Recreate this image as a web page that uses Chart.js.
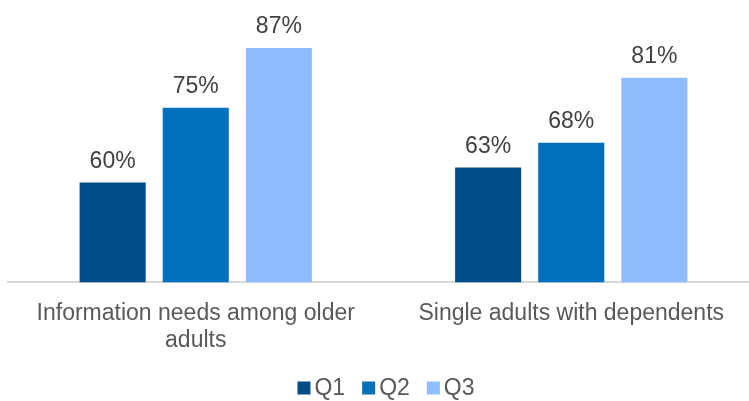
<!DOCTYPE html>
<html>
<head>
<meta charset="utf-8">
<script src="https://cdn.jsdelivr.net/npm/chart.js@4"></script>
<style>
  html, body { margin: 0; padding: 0; background: #fff; overflow: hidden; }
  #wrap { width: 772px; height: 401px; }
</style>
</head>
<body>
<div id="wrap"><canvas id="bar-chart" width="772" height="401"></canvas></div>
<script>
const categories = [["Information needs among older", "adults"], "Single adults with dependents"];
const seriesNames = ["Q1", "Q2", "Q3"];
const q1 = [60, 63];
const q2 = [75, 68];
const q3 = [87, 81];
const colors = ["#004C87", "#0070BA", "#8FBCFF"];

const FONT = "'Liberation Sans', Arial, sans-serif";
Chart.defaults.font.family = FONT;
Chart.defaults.font.size = 23;
Chart.defaults.color = "#595959";

// percentage above each bar
const valueLabels = {
  id: 'valueLabels',
  afterDatasetsDraw(chart) {
    const ctx = chart.ctx;
    ctx.save();
    ctx.font = "23px " + FONT;
    ctx.fillStyle = "#404040";
    ctx.textAlign = "center";
    ctx.textBaseline = "alphabetic";
    chart.data.datasets.forEach((ds, i) => {
      chart.getDatasetMeta(i).data.forEach((bar, j) => {
        ctx.fillText(ds.data[j] + "%", bar.x, bar.y - 15);
      });
    });
    ctx.restore();
  }
};

// compact legend at the bottom (small gap between box and text)
const bottomLegend = {
  id: 'bottomLegend',
  afterDraw(chart) {
    const ctx = chart.ctx;
    const box = 13, gap = 4, spacing = 17;
    ctx.save();
    ctx.font = "23px " + FONT;
    ctx.textBaseline = "middle";
    ctx.textAlign = "left";
    const items = chart.data.datasets.map(ds => ({
      text: ds.label, color: ds.backgroundColor, w: box + gap + ctx.measureText(ds.label).width
    }));
    const total = items.reduce((s, it) => s + it.w, 0) + spacing * (items.length - 1);
    let x = chart.width / 2 - total / 2;
    const y = 388;
    items.forEach(it => {
      ctx.fillStyle = it.color;
      ctx.fillRect(x, y - box / 2, box, box);
      ctx.fillStyle = "#595959";
      ctx.fillText(it.text, x + box + gap, y + 1);
      x += it.w + spacing;
    });
    ctx.restore();
  }
};

new Chart(document.getElementById("bar-chart"), {
  type: 'bar',
  data: {
    labels: categories,
    datasets: [
      { label: seriesNames[0], data: q1, backgroundColor: colors[0] },
      { label: seriesNames[1], data: q2, backgroundColor: colors[1] },
      { label: seriesNames[2], data: q3, backgroundColor: colors[2] }
    ]
  },
  options: {
    responsive: false,
    animation: false,
    categoryPercentage: 0.664,
    barPercentage: 0.795,
    layout: { padding: { left: 8, right: 13, top: 33, bottom: 37 } },
    scales: {
      x: {
        grid: { display: false },
        border: { display: true, color: "#D9D9D9", width: 2 },
        ticks: { padding: 10, maxRotation: 0, autoSkip: false, font: { size: 23, lineHeight: 1.17 } }
      },
      y: {
        display: false,
        min: 40,
        max: 90
      }
    },
    plugins: {
      legend: { display: false },
      tooltip: { enabled: false }
    }
  },
  plugins: [valueLabels, bottomLegend]
});
</script>
</body>
</html>
